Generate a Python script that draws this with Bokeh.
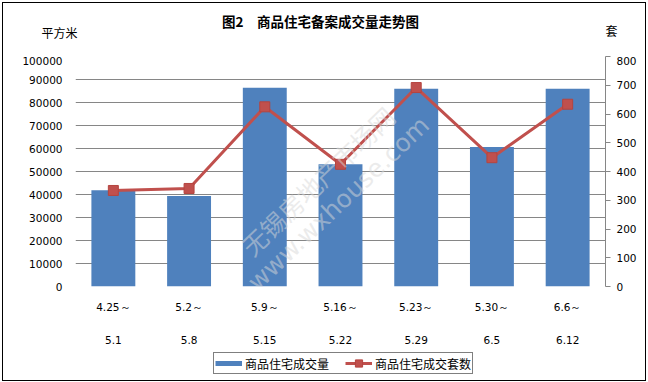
from bokeh.plotting import figure
from bokeh.layouts import column
from bokeh.models import (LinearAxis, CategoricalAxis, Range1d, FactorRange, FixedTicker,
                          NumeralTickFormatter, Grid, Legend, LegendItem, Label,
                          InlineStyleSheet)
from bokeh.embed import file_html
from bokeh.resources import INLINE

# ---- data ----
start_labels = ["4.25～", "5.2～", "5.9～", "5.16～", "5.23～", "5.30～", "6.6～"]
end_labels = ["5.1", "5.8", "5.15", "5.22", "5.29", "6.5", "6.12"]
area_sqm = [41900, 39400, 86400, 53200, 86000, 60700, 86000]
units_sold = [334, 341, 625, 425, 692, 448, 634]
left_ticks = [0, 10000, 20000, 30000, 40000, 50000, 60000, 70000, 80000, 90000, 100000]
right_ticks = [0, 100, 200, 300, 400, 500, 600, 700, 800]
title_text = "图2\u3000商品住宅备案成交量走势图"
left_unit = "平方米"
right_unit = "套"
series_names = ["商品住宅成交量", "商品住宅成交套数"]
watermark_cn = "无锡房地产市场网"
watermark_en = "www.wxhouse.com"

BAR_COLOR = "#4F81BD"
LINE_COLOR = "#C0504D"
GRID_COLOR = "#868686"
CJK = "Noto Sans CJK SC"
NUM = "DejaVu Sans"

W, H = 648, 382
HEAD = 56                      # heading strip height
FOOT = 34                      # legend strip height
FL, FR, FB = 75, 43, 62        # main frame borders
FW, FH = W - FL - FR, H - HEAD - FOOT - FB


def bare_figure(height):
    f = figure(width=W, height=height, x_range=Range1d(0, W), y_range=Range1d(0, height),
               x_axis_location=None, y_axis_location=None, title=None,
               output_backend="svg", toolbar_location=None,
               min_border=0, min_border_left=0, min_border_right=0,
               min_border_top=0, min_border_bottom=0,
               outline_line_color=None, background_fill_color="white",
               border_fill_color="white")
    f.xgrid.visible = False
    f.ygrid.visible = False
    if "frame_align" in f.properties():
        f.frame_align = False
    return f


# ---------- heading strip (title and unit labels) ----------
head = bare_figure(HEAD)
head.add_layout(Label(x=320, y=HEAD - 20, x_units="screen", y_units="screen",
                      text=title_text, text_align="center", text_baseline="middle",
                      text_font=CJK, text_font_style="bold", text_font_size="13.5px",
                      text_color="#000000"))
head.add_layout(Label(x=59, y=HEAD - 32, x_units="screen", y_units="screen",
                      text=left_unit, text_align="center", text_baseline="middle",
                      text_font=CJK, text_font_size="12px", text_color="#000000"))
head.add_layout(Label(x=611, y=HEAD - 30, x_units="screen", y_units="screen",
                      text=right_unit, text_align="center", text_baseline="middle",
                      text_font=CJK, text_font_size="12px", text_color="#000000"))

# ---------- main chart ----------
p = figure(frame_width=FW, frame_height=FH, title=None,
           x_range=FactorRange(factors=start_labels),
           y_range=Range1d(0, 100000),
           x_axis_location=None, y_axis_location=None,
           output_backend="svg", toolbar_location=None,
           min_border=0, min_border_left=FL, min_border_right=FR,
           min_border_top=0, min_border_bottom=FB,
           outline_line_color=None, background_fill_color="white",
           border_fill_color="white")
if "frame_align" in p.properties():
    p.frame_align = False
p.extra_y_ranges = {"units": Range1d(0, 800)}
p.extra_x_ranges = {"ends": FactorRange(factors=end_labels)}
p.xgrid.visible = False
p.ygrid.visible = False

grid = Grid(dimension=1, ticker=FixedTicker(ticks=left_ticks),
            grid_line_color=GRID_COLOR, grid_line_width=1)
p.add_layout(grid)

ly = LinearAxis(ticker=FixedTicker(ticks=left_ticks),
                formatter=NumeralTickFormatter(format="0"),
                axis_line_color=None, major_tick_line_color=None,
                major_tick_in=0, major_tick_out=0,
                minor_tick_line_color=None, minor_tick_out=0, minor_tick_in=0,
                major_label_standoff=13,
                major_label_text_font=NUM, major_label_text_font_size="10.5px",
                major_label_text_color="#000000")
p.add_layout(ly, "left")

ry = LinearAxis(y_range_name="units", ticker=FixedTicker(ticks=right_ticks),
                axis_line_color=GRID_COLOR, axis_line_width=1,
                major_tick_line_color=GRID_COLOR, major_tick_in=0, major_tick_out=5,
                minor_tick_line_color=None, minor_tick_out=0, minor_tick_in=0,
                major_label_standoff=6,
                major_label_text_font=NUM, major_label_text_font_size="10.5px",
                major_label_text_color="#000000")
p.add_layout(ry, "right")

ax1 = CategoricalAxis(axis_line_color=None, major_tick_line_color=None,
                      major_tick_in=0, major_tick_out=0,
                      major_label_standoff=14,
                      major_label_text_font=NUM, major_label_text_font_size="10.5px",
                      major_label_text_color="#000000")
ax2 = CategoricalAxis(x_range_name="ends", axis_line_color=None, major_tick_line_color=None,
                      major_tick_in=0, major_tick_out=0,
                      major_label_standoff=20,
                      major_label_text_font=NUM, major_label_text_font_size="10.5px",
                      major_label_text_color="#000000")
p.add_layout(ax1, "below")
p.add_layout(ax2, "below")

bars = p.vbar(x=start_labels, top=area_sqm, width=0.58, fill_color=BAR_COLOR,
              line_color=None)

# watermark (screen units relative to the frame, y upwards)
p.add_layout(Label(x=317 - FL, y=(HEAD + FH) - 180, x_units="screen", y_units="screen",
                   text=watermark_cn, angle=0.765, text_align="center",
                   text_baseline="middle", text_font=CJK, text_font_size="25px",
                   text_color="#d8d8d8", text_alpha=0.5))
p.add_layout(Label(x=338 - FL, y=(HEAD + FH) - 203, x_units="screen", y_units="screen",
                   text=watermark_en, angle=0.76, text_align="center",
                   text_baseline="middle", text_font=NUM, text_font_size="25px",
                   text_color="#d8d8d8", text_alpha=0.5))

ln = p.line(x=start_labels, y=units_sold, y_range_name="units",
            line_color=LINE_COLOR, line_width=3)
mk = p.scatter(x=start_labels, y=units_sold, y_range_name="units", marker="square",
               size=10, fill_color=LINE_COLOR, line_color="#B5443F")

# ---------- legend strip ----------
foot = bare_figure(FOOT)
nan = float("nan")
bar_swatch = foot.line(x=[nan], y=[nan], line_color=BAR_COLOR, line_width=5)
line_swatch = foot.line(x=[nan], y=[nan], line_color=LINE_COLOR, line_width=3)
mark_swatch = foot.scatter(x=[nan], y=[nan], marker="square", size=8,
                           fill_color=LINE_COLOR, line_color="#B5443F")

legend = Legend(items=[LegendItem(label=series_names[0], renderers=[bar_swatch]),
                       LegendItem(label=series_names[1], renderers=[line_swatch, mark_swatch])],
                orientation="horizontal", location=(213, 8),
                border_line_color="#000000", border_line_width=1,
                label_text_font=CJK, label_text_font_size="12px",
                label_text_color="#000000",
                glyph_width=27, glyph_height=18, label_standoff=3,
                padding=1, spacing=10, margin=0, label_height=16, label_width=90)
foot.add_layout(legend)

frame_css = InlineStyleSheet(css="""
:host::after {
  content: "";
  position: absolute;
  left: 2px; top: 2px; width: 644px; height: 379px;
  border: 1.5px solid #000000;
  box-sizing: border-box;
  pointer-events: none;
  z-index: 100;
}
""")

layout = column(head, p, foot, spacing=0, stylesheets=[frame_css])

open("out.html", "w").write(file_html(layout, INLINE))
